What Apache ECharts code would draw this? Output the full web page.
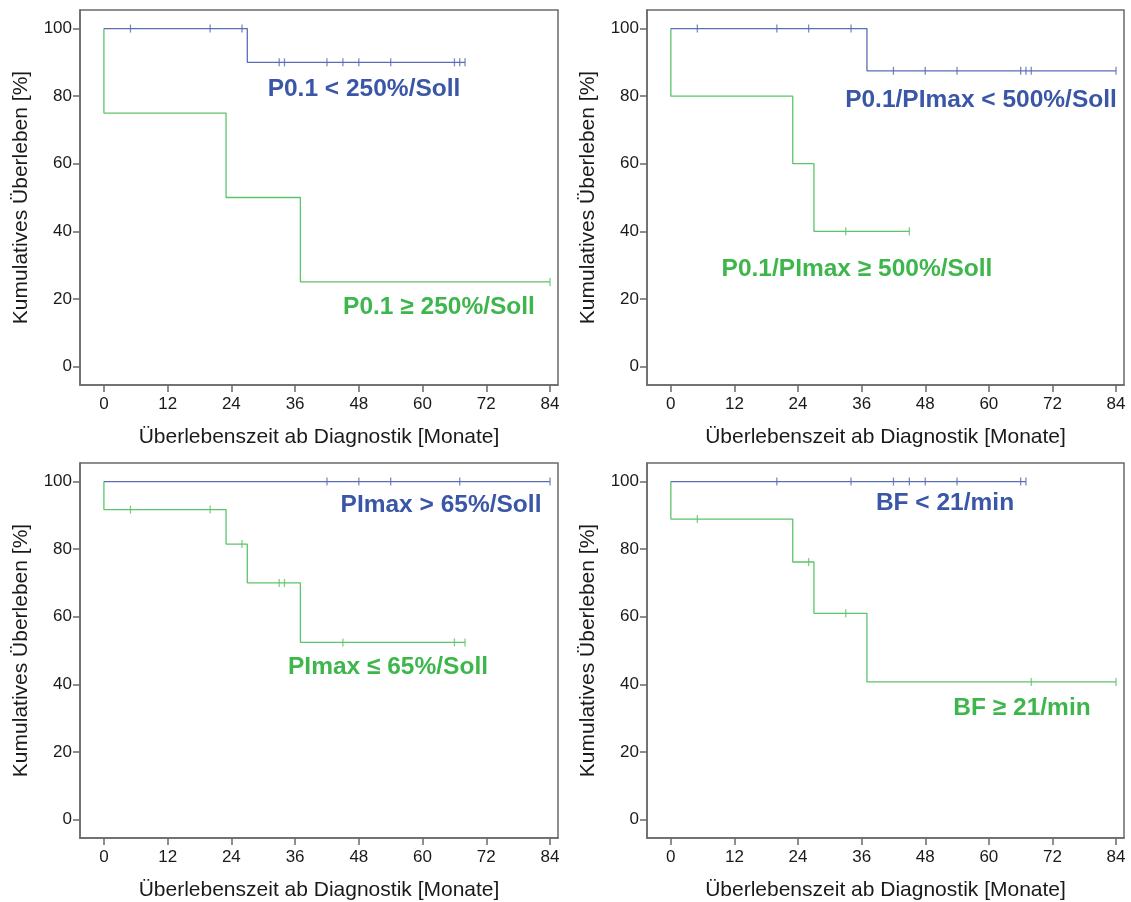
<!DOCTYPE html>
<html>
<head>
<meta charset="utf-8">
<script src="https://cdn.jsdelivr.net/npm/echarts@6/dist/echarts.min.js"></script>
<style>html,body{margin:0;padding:0;background:#fff}#c{width:1131px;height:902px}</style>
</head>
<body>
<div id="c"></div>
<script>
// ---- data ----
const xTicks = [0, 12, 24, 36, 48, 60, 72, 84];
const yTicks = [0, 20, 40, 60, 80, 100];
const xTitle = 'Überlebenszeit ab Diagnostik [Monate]';
const yTitle = 'Kumulatives Überleben [%]';

// Panel 1: P0.1
const p1BlueTimes = [0, 27];
const p1BlueSurv = [100, 90];
const p1BlueCens = [5, 20, 26, 33, 34, 42, 45, 48, 54, 66, 67, 68];
const p1GreenTimes = [0, 0, 23, 37];
const p1GreenSurv = [100, 75, 50, 25];
const p1GreenCens = [84];
const p1Labels = ['P0.1 < 250%/Soll', 'P0.1 ≥ 250%/Soll'];

// Panel 2: P0.1/PImax
const p2BlueTimes = [0, 37];
const p2BlueSurv = [100, 87.5];
const p2BlueCens = [5, 20, 26, 34, 42, 48, 54, 66, 67, 68, 84];
const p2GreenTimes = [0, 0, 23, 27];
const p2GreenSurv = [100, 80, 60, 40];
const p2GreenCens = [33, 45];
const p2Labels = ['P0.1/PImax < 500%/Soll', 'P0.1/PImax ≥ 500%/Soll'];

// Panel 3: PImax
const p3BlueTimes = [0];
const p3BlueSurv = [100];
const p3BlueCens = [42, 48, 54, 67, 84];
const p3GreenTimes = [0, 0, 23, 27, 37];
const p3GreenSurv = [100, 91.7, 81.5, 70, 52.4];
const p3GreenCens = [5, 20, 26, 33, 34, 45, 66, 68];
const p3Labels = ['PImax > 65%/Soll', 'PImax ≤ 65%/Soll'];

// Panel 4: BF
const p4BlueTimes = [0];
const p4BlueSurv = [100];
const p4BlueCens = [20, 34, 42, 45, 48, 54, 66, 67];
const p4GreenTimes = [0, 0, 23, 27, 37];
const p4GreenSurv = [100, 88.9, 76.2, 61, 40.7];
const p4GreenCens = [5, 26, 33, 68, 84];
const p4Labels = ['BF < 21/min', 'BF ≥ 21/min'];

// ---- styles ----
const FONT = '"Liberation Sans", Arial, sans-serif';
const BLUE_LINE = '#5a6db6';
const GREEN_LINE = '#5cc46a';
const BLUE_TEXT = '#3a56a6';
const GREEN_TEXT = '#3db64c';
const AXIS = '#6a6a6a';

const panels = [
  {bt: p1BlueTimes, bs: p1BlueSurv, bc: p1BlueCens, gt: p1GreenTimes, gs: p1GreenSurv, gc: p1GreenCens, labels: p1Labels,
   grid: {left: 80, top: 10, width: 478, height: 375}, lab: [[364, 89], [439, 307]]},
  {bt: p2BlueTimes, bs: p2BlueSurv, bc: p2BlueCens, gt: p2GreenTimes, gs: p2GreenSurv, gc: p2GreenCens, labels: p2Labels,
   grid: {left: 647, top: 10, width: 477, height: 375}, lab: [[981, 100], [857, 269]]},
  {bt: p3BlueTimes, bs: p3BlueSurv, bc: p3BlueCens, gt: p3GreenTimes, gs: p3GreenSurv, gc: p3GreenCens, labels: p3Labels,
   grid: {left: 80, top: 463, width: 478, height: 377}, lab: [[441, 505], [388, 667]]},
  {bt: p4BlueTimes, bs: p4BlueSurv, bc: p4BlueCens, gt: p4GreenTimes, gs: p4GreenSurv, gc: p4GreenCens, labels: p4Labels,
   grid: {left: 647, top: 463, width: 477, height: 377}, lab: [[945, 503], [1022, 708]]}
];

function survAt(times, surv, t) {
  let s = surv[0];
  for (let i = 0; i < times.length; i++) if (times[i] <= t) s = surv[i];
  return s;
}
function stepData(times, surv, cens) {
  const d = times.map((t, i) => [t, surv[i]]);
  const end = Math.max(times[times.length - 1], ...(cens.length ? cens : [0]));
  d.push([end, surv[surv.length - 1]]);
  return d;
}
function censData(times, surv, cens) {
  return cens.map(t => [t, survAt(times, surv, t)]);
}

const grids = [], xAxes = [], yAxes = [], series = [], graphics = [];
panels.forEach((p, k) => {
  grids.push(Object.assign({show: true, borderColor: AXIS, borderWidth: 1.5, backgroundColor: '#fff'}, p.grid));
  xAxes.push({
    type: 'value', gridIndex: k, min: -4.5, max: 85.5,
    axisLine: {show: true, onZero: false, lineStyle: {color: AXIS, width: 1.5}},
    axisTick: {show: true, length: 7, customValues: xTicks, lineStyle: {color: AXIS, width: 1.5}},
    axisLabel: {customValues: xTicks, color: '#1a1a1a', fontSize: 17, fontFamily: FONT, margin: 11},
    splitLine: {show: false},
    name: xTitle, nameLocation: 'middle', nameGap: 42,
    nameTextStyle: {color: '#1a1a1a', fontSize: 21, fontFamily: FONT}
  });
  yAxes.push({
    type: 'value', gridIndex: k, min: -5.5, max: 105.5,
    axisLine: {show: true, onZero: false, lineStyle: {color: AXIS, width: 1.5}},
    axisTick: {show: true, length: 7, customValues: yTicks, lineStyle: {color: AXIS, width: 1.5}},
    axisLabel: {customValues: yTicks, color: '#1a1a1a', fontSize: 17, fontFamily: FONT, margin: 8},
    splitLine: {show: false},
    name: yTitle, nameLocation: 'middle', nameGap: 48, nameRotate: 90,
    nameTextStyle: {color: '#1a1a1a', fontSize: 21, fontFamily: FONT}
  });
  const curves = [
    {t: p.gt, s: p.gs, c: p.gc, col: GREEN_LINE},
    {t: p.bt, s: p.bs, c: p.bc, col: BLUE_LINE}
  ];
  curves.forEach(cv => {
    series.push({
      type: 'line', xAxisIndex: k, yAxisIndex: k, step: 'end', showSymbol: false, silent: true,
      data: stepData(cv.t, cv.s, cv.c), lineStyle: {color: cv.col, width: 1.3}, animation: false
    });
    series.push({
      type: 'scatter', xAxisIndex: k, yAxisIndex: k, symbol: 'rect', symbolSize: [1.3, 8], silent: true,
      data: censData(cv.t, cv.s, cv.c), itemStyle: {color: cv.col}, animation: false
    });
  });
  p.labels.forEach((txt, j) => {
    graphics.push({
      type: 'text', x: p.lab[j][0], y: p.lab[j][1], z: 100,
      style: {text: txt, align: 'center', verticalAlign: 'middle',
        fontSize: 24.5, fontWeight: 'bold', fontFamily: FONT, fill: j === 0 ? BLUE_TEXT : GREEN_TEXT}
    });
  });
});

const chart = echarts.init(document.getElementById('c'), null, {renderer: 'canvas'});
chart.setOption({
  backgroundColor: '#fff',
  animation: false,
  grid: grids, xAxis: xAxes, yAxis: yAxes, series: series, graphic: graphics
});
</script>
</body>
</html>
